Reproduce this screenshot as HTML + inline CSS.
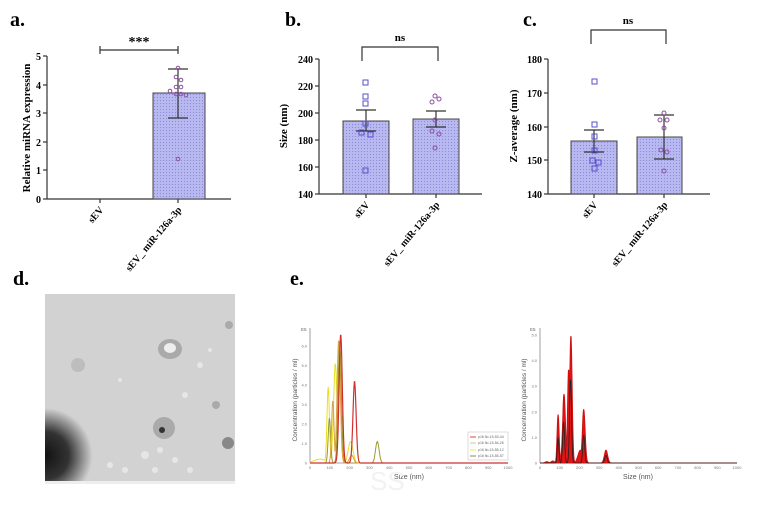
<!DOCTYPE html>
<html><head><meta charset="utf-8"><style>
body{margin:0;background:#fff;width:764px;height:505px;overflow:hidden}
svg{position:absolute;left:0;top:0}
text{font-family:"Liberation Serif",serif;font-weight:bold}
.s{font-family:"Liberation Sans",sans-serif;font-weight:normal}
</style></head><body>
<svg id="g" width="764" height="505" viewBox="0 0 764 505">
<defs>
<pattern id="dp" width="3" height="3" patternUnits="userSpaceOnUse"><rect width="3" height="3" fill="#b9b9f2"/><circle cx="1.5" cy="1.5" r="0.6" fill="#8a8ad8"/></pattern>
<radialGradient id="dk" cx="0" cy="0.85" r="0.25"><stop offset="0" stop-color="#111"/><stop offset="0.5" stop-color="#333"/><stop offset="1" stop-color="#333" stop-opacity="0"/></radialGradient>
</defs>
<text x="10" y="26" font-size="20">a.</text>
<text x="285" y="26" font-size="20">b.</text>
<text x="523" y="26" font-size="20">c.</text>
<text x="13" y="285" font-size="20">d.</text>
<text x="290" y="285" font-size="20">e.</text>

<!-- panel a -->
<g stroke="#333" stroke-width="1.2" fill="none">
<line x1="47" y1="56" x2="47" y2="199"/><line x1="47" y1="199" x2="231" y2="199"/>
<line x1="43" y1="56" x2="47" y2="56"/><line x1="43" y1="85" x2="47" y2="85"/><line x1="43" y1="113" x2="47" y2="113"/><line x1="43" y1="142" x2="47" y2="142"/><line x1="43" y1="170" x2="47" y2="170"/><line x1="43" y1="199" x2="47" y2="199"/>
<line x1="100" y1="199" x2="100" y2="203"/><line x1="178" y1="199" x2="178" y2="203"/>
<line x1="100" y1="50" x2="178" y2="50"/><line x1="100" y1="46" x2="100" y2="54"/><line x1="178" y1="46" x2="178" y2="54"/>
</g>
<rect x="153" y="93" width="52" height="106" fill="url(#dp)" stroke="#444" stroke-width="1"/>
<g stroke="#333" stroke-width="1.2"><line x1="178" y1="69" x2="178" y2="118"/><line x1="168" y1="69" x2="188" y2="69"/><line x1="168" y1="118" x2="188" y2="118"/></g>
<g fill="none" stroke="#8a4fa0" stroke-width="1"><circle cx="178" cy="68" r="1.8"/><circle cx="176" cy="77" r="1.8"/><circle cx="181" cy="80" r="1.8"/><circle cx="176" cy="87" r="1.8"/><circle cx="181" cy="87" r="1.8"/><circle cx="170" cy="91" r="1.8"/><circle cx="176" cy="94" r="1.8"/><circle cx="181" cy="94" r="1.8"/><circle cx="186" cy="95" r="1.8"/><circle cx="178" cy="159" r="1.8"/></g>
<g font-size="10" text-anchor="end"><text x="41" y="60">5</text><text x="41" y="89">4</text><text x="41" y="117">3</text><text x="41" y="146">2</text><text x="41" y="174">1</text><text x="41" y="203">0</text></g>
<text x="139" y="46" font-size="14" text-anchor="middle">***</text>
<text transform="translate(30,128) rotate(-90)" font-size="11" text-anchor="middle">Relative miRNA expression</text>
<text transform="translate(104,210) rotate(-50)" font-size="10" text-anchor="end">sEV</text>
<text transform="translate(182,210) rotate(-50)" font-size="10" text-anchor="end">sEV_ miR-126a-3p</text>

<!-- panel b -->
<g stroke="#333" stroke-width="1.2" fill="none">
<line x1="319" y1="59" x2="319" y2="194"/><line x1="319" y1="194" x2="482" y2="194"/>
<line x1="315" y1="59" x2="319" y2="59"/><line x1="315" y1="86" x2="319" y2="86"/><line x1="315" y1="113" x2="319" y2="113"/><line x1="315" y1="140" x2="319" y2="140"/><line x1="315" y1="167" x2="319" y2="167"/><line x1="315" y1="194" x2="319" y2="194"/>
<line x1="366" y1="194" x2="366" y2="198"/><line x1="436" y1="194" x2="436" y2="198"/>
<polyline points="362,61 362,47 438,47 438,61"/>
</g>
<rect x="343" y="121" width="46" height="73" fill="url(#dp)" stroke="#444"/>
<rect x="413" y="119" width="46" height="75" fill="url(#dp)" stroke="#444"/>
<g stroke="#333" stroke-width="1.2"><line x1="366" y1="110" x2="366" y2="131"/><line x1="356" y1="110" x2="376" y2="110"/><line x1="356" y1="131" x2="376" y2="131"/>
<line x1="436" y1="111" x2="436" y2="127"/><line x1="426" y1="111" x2="446" y2="111"/><line x1="426" y1="127" x2="446" y2="127"/></g>
<g fill="none" stroke="#5a50c8" stroke-width="1"><rect x="363" y="80" width="5" height="5"/><rect x="363" y="94" width="5" height="5"/><rect x="363" y="101" width="5" height="5"/><rect x="363" y="121" width="5" height="5"/><rect x="359" y="130" width="5" height="5"/><rect x="368" y="132" width="5" height="5"/><rect x="363" y="168" width="5" height="5"/></g>
<g fill="none" stroke="#8a4fa0" stroke-width="1"><circle cx="435" cy="96" r="2"/><circle cx="439" cy="99" r="2"/><circle cx="432" cy="102" r="2"/><circle cx="435" cy="120" r="2"/><circle cx="432" cy="131" r="2"/><circle cx="439" cy="134" r="2"/><circle cx="435" cy="148" r="2"/></g>
<g font-size="10" text-anchor="end"><text x="313" y="63">240</text><text x="313" y="90">220</text><text x="313" y="117">200</text><text x="313" y="144">180</text><text x="313" y="171">160</text><text x="313" y="198">140</text></g>
<text x="400" y="41" font-size="11" text-anchor="middle">ns</text>
<text transform="translate(287,126) rotate(-90)" font-size="11" text-anchor="middle">Size (nm)</text>
<text transform="translate(370,205) rotate(-50)" font-size="10" text-anchor="end">sEV</text>
<text transform="translate(440,205) rotate(-50)" font-size="10" text-anchor="end">sEV_ miR-126a-3p</text>

<!-- panel c -->
<g stroke="#333" stroke-width="1.2" fill="none">
<line x1="548" y1="59" x2="548" y2="194"/><line x1="548" y1="194" x2="710" y2="194"/>
<line x1="544" y1="59" x2="548" y2="59"/><line x1="544" y1="93" x2="548" y2="93"/><line x1="544" y1="127" x2="548" y2="127"/><line x1="544" y1="160" x2="548" y2="160"/><line x1="544" y1="194" x2="548" y2="194"/>
<line x1="594" y1="194" x2="594" y2="198"/><line x1="664" y1="194" x2="664" y2="198"/>
<polyline points="591,44 591,30 666,30 666,44"/>
</g>
<rect x="571" y="141" width="46" height="53" fill="url(#dp)" stroke="#444"/>
<rect x="637" y="137" width="45" height="57" fill="url(#dp)" stroke="#444"/>
<g stroke="#333" stroke-width="1.2"><line x1="594" y1="130" x2="594" y2="152"/><line x1="584" y1="130" x2="604" y2="130"/><line x1="584" y1="152" x2="604" y2="152"/>
<line x1="664" y1="115" x2="664" y2="159"/><line x1="654" y1="115" x2="674" y2="115"/><line x1="654" y1="159" x2="674" y2="159"/></g>
<g fill="none" stroke="#5a50c8" stroke-width="1"><rect x="592" y="79" width="5" height="5"/><rect x="592" y="122" width="5" height="5"/><rect x="592" y="134" width="5" height="5"/><rect x="592" y="148" width="5" height="5"/><rect x="590" y="158" width="5" height="5"/><rect x="596" y="160" width="5" height="5"/><rect x="592" y="166" width="5" height="5"/></g>
<g fill="none" stroke="#8a4fa0" stroke-width="1"><circle cx="664" cy="113" r="2"/><circle cx="660" cy="120" r="2"/><circle cx="667" cy="120" r="2"/><circle cx="664" cy="128" r="2"/><circle cx="661" cy="150" r="2"/><circle cx="667" cy="152" r="2"/><circle cx="664" cy="171" r="2"/></g>
<g font-size="10" text-anchor="end"><text x="542" y="63">180</text><text x="542" y="97">170</text><text x="542" y="131">160</text><text x="542" y="164">150</text><text x="542" y="198">140</text></g>
<text x="628" y="24" font-size="11" text-anchor="middle">ns</text>
<text transform="translate(517,126) rotate(-90)" font-size="11" text-anchor="middle">Z-average (nm)</text>
<text transform="translate(598,205) rotate(-50)" font-size="10" text-anchor="end">sEV</text>
<text transform="translate(668,205) rotate(-50)" font-size="10" text-anchor="end">sEV_ miR-126a-3p</text>

<!-- panel d image -->
<rect x="45" y="294" width="190" height="190" fill="#d2d2d2"/>
<rect x="45" y="294" width="190" height="190" fill="url(#dk)"/>
<ellipse cx="170" cy="349" rx="12" ry="10" fill="#aaa"/><ellipse cx="170" cy="348" rx="6" ry="5" fill="#eee"/>
<circle cx="164" cy="428" r="11" fill="#aaa"/><circle cx="162" cy="430" r="3" fill="#333"/>
<circle cx="228" cy="443" r="6" fill="#888"/><circle cx="229" cy="325" r="4" fill="#aaa"/>
<circle cx="78" cy="365" r="7" fill="#bdbdbd"/><circle cx="216" cy="405" r="4" fill="#aaa"/>
<g fill="#e6e6e6"><circle cx="145" cy="455" r="4"/><circle cx="160" cy="450" r="3"/><circle cx="175" cy="460" r="3"/><circle cx="190" cy="470" r="3"/><circle cx="155" cy="470" r="3"/><circle cx="200" cy="365" r="3"/><circle cx="185" cy="395" r="3"/><circle cx="120" cy="380" r="2"/><circle cx="210" cy="350" r="2"/><circle cx="110" cy="465" r="3"/><circle cx="125" cy="470" r="3"/></g>
<rect x="45" y="481" width="190" height="3" fill="#eee"/>

<!-- panel e axes -->
<g stroke="#888" stroke-width="0.8" fill="none">
<line x1="310" y1="328" x2="310" y2="463"/><line x1="310" y1="463" x2="508" y2="463"/>
<line x1="540" y1="328" x2="540" y2="463"/><line x1="540" y1="463" x2="737" y2="463"/>
</g>
<g id="ep"></g>
<g id="tk" font-size="4" fill="#777"></g>
<text class="s" x="301" y="331" font-size="4.5" fill="#666">E5</text><text class="s" x="530" y="331" font-size="4.5" fill="#666">E5</text>
<text class="s" transform="translate(297,400) rotate(-90)" font-size="6.5" fill="#555" text-anchor="middle">Concentration (particles / ml)</text>
<text class="s" transform="translate(526,400) rotate(-90)" font-size="6.5" fill="#555" text-anchor="middle">Concentration (particles / ml)</text>
<text class="s" x="409" y="479" font-size="7" fill="#555" text-anchor="middle">Size (nm)</text>
<text class="s" x="638" y="479" font-size="7" fill="#555" text-anchor="middle">Size (nm)</text>
<g stroke="#bbb" stroke-width="0.5" fill="#fff"><rect x="468" y="432" width="40" height="28"/></g>
<g font-size="3.5" fill="#666"><text class="s" x="478" y="438">p16 flo-15-53-44</text><text class="s" x="478" y="444">p16 flo-15-54-26</text><text class="s" x="478" y="451">p16 flo-15-55-12</text><text class="s" x="478" y="457">p16 flo-15-55-57</text></g>
<g stroke-width="1"><line x1="470" y1="437" x2="476" y2="437" stroke="#d44"/><line x1="470" y1="443" x2="476" y2="443" stroke="#cc8"/><line x1="470" y1="450" x2="476" y2="450" stroke="#ee4"/><line x1="470" y1="456" x2="476" y2="456" stroke="#886"/></g>
<text x="370" y="490" font-size="26" fill="#f2f2f2" class="s">SS</text>
</svg>
<script>
var ep=document.getElementById('ep'),tk=document.getElementById('tk'),NS='http://www.w3.org/2000/svg';
function mk(x0,w,y0,sc,peaks,col,fill,sw){
 var d='M'+x0+','+y0;
 for(var s=0;s<=1000;s+=2){var v=0;peaks.forEach(function(p){v=Math.max(v,p[1]*Math.exp(-Math.pow((s-p[0])/p[2],2)/2))});
  d+=' L'+(x0+s*w/1000).toFixed(1)+','+(y0-v*sc).toFixed(1);}
 if(fill)d+=' L'+(x0+w)+','+y0+' Z';
 var p=document.createElementNS(NS,'path');p.setAttribute('d',d);p.setAttribute('fill',fill||'none');p.setAttribute('stroke',col);p.setAttribute('stroke-width',sw||1);ep.appendChild(p);}
function t(x,y,s,a){var e=document.createElementNS(NS,'text');e.setAttribute('x',x);e.setAttribute('y',y);e.setAttribute('class','s');if(a)e.setAttribute('text-anchor',a);e.textContent=s;tk.appendChild(e);}
[[310,198,19.5,6],[540,197,25.6,5]].forEach(function(a){
 for(var i=0;i<=10;i++)t(a[0]+i*a[1]/10,469,String(i*100),'middle');
 for(var j=0;j<=a[3];j++)t(a[0]-3,463-j*a[2]+1.5,j?j.toFixed(1):'0','end');
});
var L=19.5;
mk(310,198,463,L,[[50,0.2,30],[92,3.9,6],[128,5.1,9],[150,6.0,8],[205,1.1,12]],'#e8e020',null,1);
mk(310,198,463,L,[[98,2.3,6],[150,6.2,8],[340,1.1,9]],'#9a9a30',null,1);
mk(310,198,463,L,[[115,3.2,6],[145,6.3,8],[210,0.4,10]],'#d8a040',null,1);
mk(310,198,463,L,[[155,6.6,8],[225,4.2,8]],'#d03030',null,1.2);
var R=25.6;
mk(540,197,463,R,[[35,0.05,8],[65,0.08,8],[92,1.9,5],[122,2.7,7],[145,3.7,5],[157,5.0,6],[205,0.5,12],[222,2.1,7],[335,0.5,8]],'#d01010','#e01515',1);
mk(540,197,463,R,[[92,1.0,4],[120,1.6,5],[155,3.3,5],[222,1.1,5],[335,0.3,6]],'#222',null,0.8);
</script>
</body></html>
